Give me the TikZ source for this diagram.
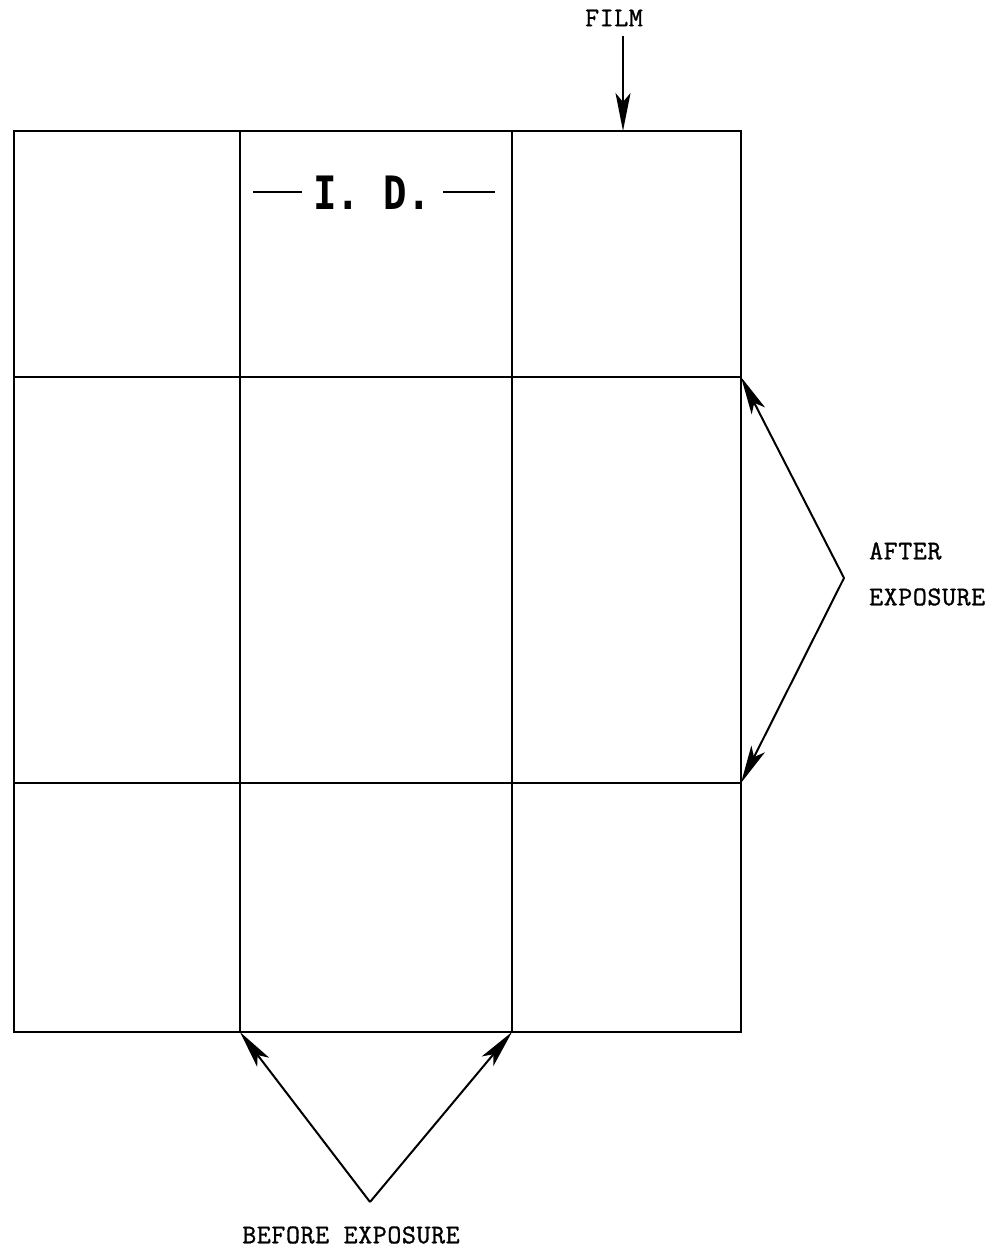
\documentclass[tikz,border=0pt]{standalone}
\usepackage{fontspec}
\newfontfamily\lblfont{Latin Modern Mono}[LetterSpace=2.5, FakeBold=1.2]
\newfontfamily\idfont{DejaVu Sans Mono}
\usetikzlibrary{arrows.meta}
\tikzset{
  frame/.style={line width=2.8pt},
  grid/.style={line width=2pt},
  ptr/.style={line width=2pt,-{Stealth[length=38pt,width=15pt,inset=9pt]}},
  lbl/.style={font=\fontsize{27}{32}\selectfont\lblfont, inner sep=0pt},
}
\begin{document}
\begin{tikzpicture}[x=1pt,y=-1pt]
\useasboundingbox (0,0) rectangle (1006,1249);
% grid lines
\draw[grid] (240,131) -- (240,1032);
\draw[grid] (512,131) -- (512,1032);
\draw[grid] (14,377) -- (741,377);
\draw[grid] (14,783) -- (741,783);
% outer frame
\draw[frame] (14,131) rectangle (741,1032);
% I.D.
\node[inner sep=0pt, font=\fontsize{46}{52}\selectfont\idfont\bfseries, xscale=0.85] (id) at (372,193) {I. D.};
\draw[line width=2.6pt] (253,192) -- (302,192);
\draw[line width=2.6pt] (443,192) -- (495,192);
% FILM
\node[lbl] (film) at (614,18) {FILM};
\coordinate (filmtip) at (623,131);
\draw[ptr] (623,36) -- (filmtip);
% AFTER EXPOSURE
\node[lbl, anchor=west] (after) at (869,551) {AFTER};
\node[lbl, anchor=west] (exposure) at (869,597) {EXPOSURE};
\coordinate (av) at (844,578);
\coordinate (a1) at (741,377);
\coordinate (a2) at (741,783);
\draw[ptr] (av) -- (a1);
\draw[ptr] (av) -- (a2);
% BEFORE EXPOSURE
\node[lbl] (before) at (351,1235) {BEFORE EXPOSURE};
\coordinate (bv) at (370,1202);
\coordinate (b1) at (240,1032);
\coordinate (b2) at (512,1032);
\draw[ptr] (bv) -- (b1);
\draw[ptr] (bv) -- (b2);
\end{tikzpicture}
\end{document}
